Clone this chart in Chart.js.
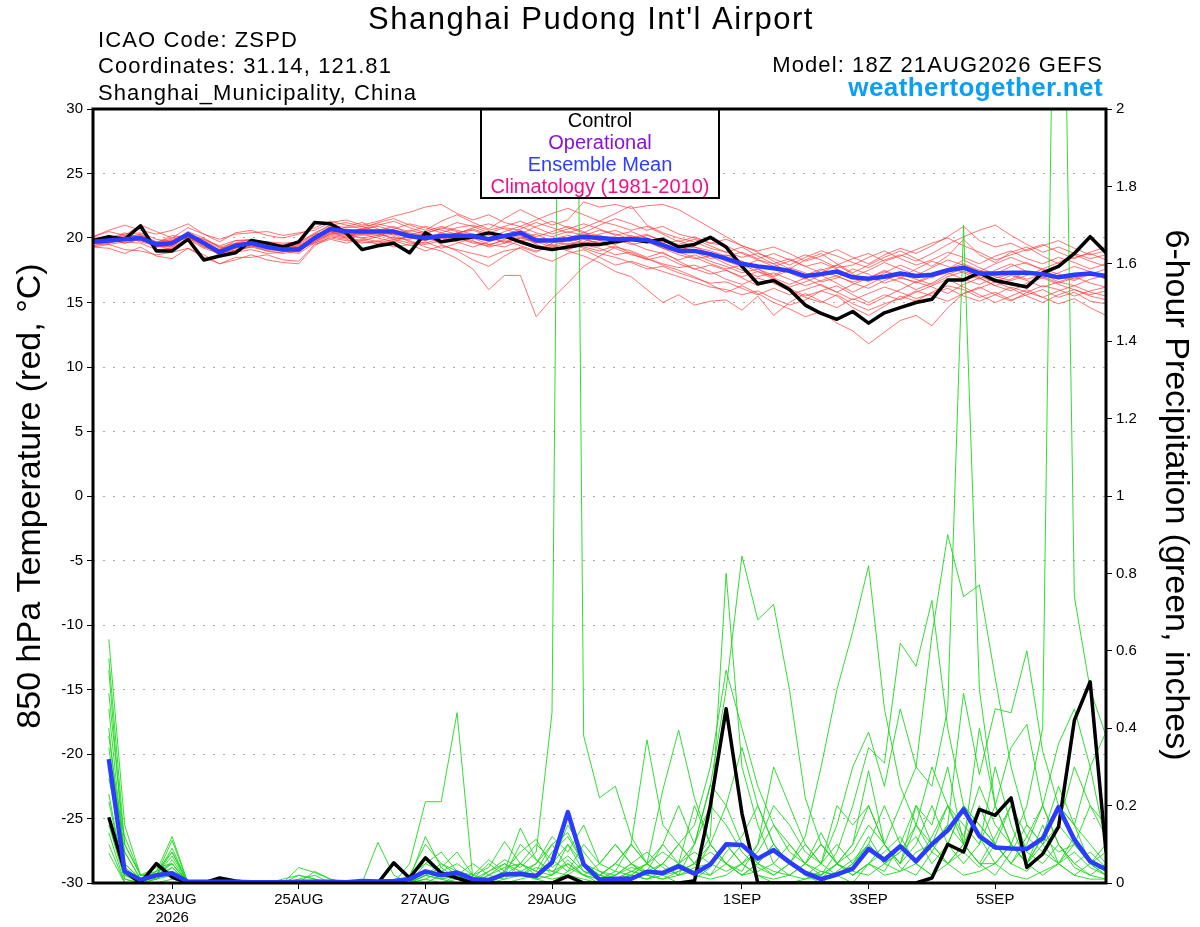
<!DOCTYPE html>
<html>
<head>
<meta charset="utf-8">
<title>Shanghai Pudong Int'l Airport - GEFS plume</title>
<script src="https://cdn.jsdelivr.net/npm/chart.js@4.4.1/dist/chart.umd.min.js"></script>
<style>
  html, body { margin: 0; padding: 0; background: #fff; }
  #wrap { width: 1200px; height: 927px; }
</style>
</head>
<body>
<div id="wrap"><canvas id="plumeChart" width="1200" height="927"></canvas></div>
<script>
// time axis: hours after 00Z 22AUG2026 (temperature starts at the 18Z init, precip at +6h)
const tempHours = Array.from({ length: 65 }, (_, j) => -6 + 6 * j);
const precipHours = Array.from({ length: 64 }, (_, k) => 6 * k);

const dayTickHours = [24, 72, 120, 168, 240, 288, 336];
const dayTickLabels = [['23AUG', '2026'], '25AUG', '27AUG', '29AUG', '1SEP', '3SEP', '5SEP'];
const tempTicks = [-30, -25, -20, -15, -10, -5, 0, 5, 10, 15, 20, 25, 30];
const precipTicks = [0, 0.2, 0.4, 0.6, 0.8, 1, 1.2, 1.4, 1.6, 1.8, 2];

const legendNames = ['Control', 'Operational', 'Ensemble Mean', 'Climatology (1981-2010)'];
const legendColors = ['#000000', '#8a12dd', '#2f3cff', '#ee1188'];

// 850 hPa temperature, degC
const controlTemp = [
  19.8,20.1,19.9,20.95,19.0,19.0,19.9,18.3,18.6,18.85,
  19.8,19.6,19.3,19.7,21.2,21.1,20.4,19.1,19.4,19.6,
  18.85,20.4,19.7,19.9,20.1,20.4,20.15,19.7,19.3,19.1,
  19.3,19.5,19.5,19.7,19.9,19.7,19.9,19.3,19.5,20.05,
  19.3,17.8,16.45,16.7,16.0,14.8,14.15,13.7,14.3,13.4,
  14.2,14.6,15.0,15.25,16.75,16.75,17.3,16.7,16.45,16.2,
  17.3,17.8,18.8,20.1,18.85
];
const meanTemp = [
  19.7,19.8,19.9,20.0,19.5,19.6,20.3,19.6,18.9,19.4,
  19.6,19.3,19.1,19.1,20.0,20.7,20.5,20.5,20.5,20.5,
  20.15,20.0,20.15,20.2,20.15,19.9,20.15,20.4,19.8,19.8,
  19.9,20.1,20.0,19.9,19.9,19.85,19.45,19.0,19.0,18.75,
  18.4,18.0,17.8,17.65,17.45,17.05,17.2,17.4,16.95,16.85,
  17.0,17.25,17.05,17.15,17.5,17.7,17.25,17.25,17.3,17.3,
  17.2,16.95,17.15,17.25,17.05
];
const redMembers = [
  [20.1,20.6,21.0,20.6,20.3,20.6,21.1,20.3,19.7,20.4, 20.6,20.2,20.0,20.3,20.8,21.3,21.0,20.7,21.2,21.5,
   21.0,20.6,21.3,21.8,21.2,20.7,21.5,22.2,21.6,21.0, 21.4,22.8,22.4,22.6,22.3,22.5,22.6,22.2,21.5,20.8,
   20.1,19.4,18.9,18.2,17.6,18.3,18.8,18.0,17.3,17.9, 18.5,19.0,18.4,17.8,18.6,19.9,18.7,18.1,18.9,19.3,
   18.6,18.0,18.5,18.8,18.3],
  [19.3,19.2,18.8,19.3,18.6,18.4,19.2,18.7,18.0,18.3, 18.7,18.3,18.1,18.0,19.4,20.1,19.9,19.6,19.8,19.3,
   19.5,19.0,19.4,19.1,18.8,18.5,19.0,19.2,18.6,18.2, 18.8,19.1,18.5,17.9,18.2,17.8,17.4,17.0,16.6,16.2,
   16.0,15.6,15.9,15.3,14.8,15.2,15.9,15.5,14.6,14.0, 14.7,15.5,15.1,15.8,16.3,16.0,15.4,15.8,15.2,15.6,
   16.0,15.4,15.8,15.1,14.9],
  [19.6,19.9,20.1,19.7,19.4,19.3,20.0,19.7,19.0,19.2, 19.5,19.4,19.0,19.3,19.8,20.4,20.2,20.0,19.7,20.1,
   19.8,19.3,19.0,18.4,17.6,16.0,17.1,17.1,13.9,15.3, 16.5,17.8,18.6,19.3,19.0,18.5,18.9,18.2,17.6,17.9,
   17.5,17.0,17.4,16.8,16.2,16.6,17.1,16.5,15.8,16.4, 17.0,16.6,16.0,16.5,17.2,17.6,16.9,16.3,16.8,17.4,
   17.0,16.5,16.9,17.4,16.8],
  [20.0,19.9,20.3,20.4,19.9,19.7,20.5,20.0,19.3,19.6, 19.9,19.5,19.3,19.5,20.3,21.0,20.8,20.9,21.1,20.8,
   20.5,20.9,20.6,20.3,20.8,21.1,20.7,20.3,20.9,21.3, 20.8,20.4,21.0,21.5,21.1,20.6,20.9,20.3,20.0,19.6,
   19.9,19.4,19.0,19.3,18.8,18.2,18.6,19.1,18.5,18.0, 18.7,19.2,18.8,19.4,20.1,20.9,19.8,19.3,19.6,19.0,
   19.4,19.8,19.2,18.7,19.0],
  [19.4,19.7,19.8,20.1,19.3,19.5,20.1,19.4,18.7,19.3, 19.4,19.1,19.2,18.9,19.9,20.5,20.3,20.2,20.4,19.9,
   20.1,19.8,20.3,20.0,19.6,19.4,19.9,20.2,19.5,19.0, 19.4,19.9,19.6,19.2,18.7,18.4,17.9,17.5,17.0,16.4,
   15.8,16.3,15.7,15.0,14.5,13.9,14.3,13.4,12.8,11.8, 12.7,13.6,14.0,13.2,14.6,15.7,16.2,15.6,15.1,15.8,
   16.3,16.0,15.5,15.9,16.2],
  [19.8,19.6,20.0,20.3,19.7,19.8,20.4,19.5,19.1,19.6, 19.7,19.4,19.0,19.2,20.1,20.9,20.6,20.3,20.6,20.9,
   20.3,20.1,19.8,20.4,20.6,20.2,19.6,20.0,20.3,19.7, 19.5,19.7,20.3,20.6,20.1,19.9,19.4,19.1,19.3,18.8,
   18.2,17.8,18.3,18.0,17.3,16.8,17.5,17.9,17.2,16.6, 17.3,17.9,17.4,16.9,17.6,18.3,17.7,17.2,17.8,18.1,
   17.5,17.0,16.7,17.2,17.6],
  [19.7,20.0,19.6,19.9,19.6,19.9,20.2,19.9,19.3,19.0, 19.3,19.6,19.4,19.0,19.7,20.3,20.9,21.2,20.7,20.2,
   20.6,20.3,20.8,20.5,19.9,20.4,20.8,20.6,20.1,20.5, 20.9,20.5,19.8,19.5,20.0,20.3,19.7,19.4,18.9,18.4,
   18.7,18.2,17.6,17.1,17.7,17.3,16.6,16.9,17.6,17.2, 16.5,16.9,17.6,18.2,17.8,17.3,16.8,17.5,18.0,17.4,
   16.9,17.3,17.8,17.4,16.8],
  [19.6,19.5,19.7,19.6,19.1,19.2,19.9,19.2,18.8,18.9, 19.1,18.8,18.9,19.3,19.6,20.2,20.0,19.8,20.1,20.3,
   19.7,19.6,20.0,19.7,19.3,19.7,20.1,19.6,19.2,19.5, 19.0,18.6,18.1,17.4,17.0,16.0,15.0,15.6,14.8,15.1,
   15.2,14.4,15.5,14.0,15.0,15.7,15.1,14.6,15.3,14.8, 15.4,16.0,16.6,16.2,15.7,16.4,16.9,16.3,15.9,16.5,
   16.9,16.4,16.0,15.6,15.9],
  [20.1,20.5,20.2,21.0,20.5,20.0,20.8,20.3,19.9,20.3, 20.4,20.5,20.2,20.4,20.6,21.2,21.4,21.0,21.3,21.7,
   22.0,22.4,22.6,21.9,21.4,21.8,21.2,20.9,21.4,21.9, 22.3,21.8,21.3,21.9,22.5,21.0,20.4,20.0,19.7,19.2,
   18.9,19.3,18.6,18.0,18.4,17.8,18.1,17.6,17.0,17.5, 18.1,17.6,17.1,17.7,18.3,17.9,17.4,18.0,18.5,18.0,
   17.6,18.1,18.7,18.2,17.8],
  [19.3,19.5,19.1,19.0,18.7,18.9,19.2,18.5,18.0,18.5, 18.5,18.7,18.3,18.2,19.5,19.9,19.6,19.9,19.5,19.8,
   19.4,19.7,19.2,19.6,20.0,19.5,19.3,19.8,19.9,19.4, 19.8,19.3,19.0,19.4,18.8,18.3,18.6,18.0,17.6,17.2,
   17.5,16.9,16.3,16.7,16.1,15.5,15.9,16.3,15.6,15.0, 15.6,15.2,15.8,16.3,16.8,16.2,15.6,15.0,15.5,16.0,
   15.4,14.9,15.3,14.6,14.0],
  [19.7,19.9,20.2,19.8,19.5,19.7,20.0,19.6,19.0,19.5, 19.6,19.3,19.2,19.4,20.2,20.6,20.4,20.7,20.9,20.6,
   20.3,20.5,20.9,20.6,20.3,20.0,20.5,20.9,20.4,20.1, 20.5,20.2,20.6,20.3,19.9,20.2,19.8,19.5,19.9,19.4,
   18.9,18.5,18.8,18.4,17.9,18.5,19.0,18.6,18.1,17.7, 18.3,18.7,18.2,18.8,19.5,20.1,20.6,21.0,20.2,19.5,
   18.9,19.3,18.8,18.4,18.7],
  [19.8,19.7,19.9,20.2,19.6,19.3,20.3,19.8,19.2,19.4, 19.5,19.3,19.3,19.1,19.8,20.4,20.3,20.0,20.2,20.4,
   20.0,19.8,20.1,19.8,20.3,20.0,19.7,20.1,19.6,19.9, 20.2,20.0,19.5,19.8,20.2,19.8,19.2,18.7,18.4,18.6,
   18.0,17.5,17.0,17.3,16.8,16.3,16.7,17.1,16.5,16.1, 16.7,17.2,16.8,16.4,17.0,17.4,17.0,16.6,17.1,16.7,
   16.2,16.6,17.0,16.5,16.2],
  [19.6,20.1,19.8,19.9,19.4,19.8,20.1,19.5,18.8,19.2, 19.6,19.5,19.1,19.3,20.0,20.8,20.2,20.4,20.3,20.0,
   19.9,20.2,19.5,19.0,18.3,17.8,18.6,19.3,18.9,19.6, 20.0,19.6,19.8,20.1,19.6,19.1,18.8,18.3,18.7,18.2,
   17.8,17.3,17.6,16.9,16.4,16.9,16.3,15.8,16.4,16.9, 17.5,17.0,16.5,17.0,17.3,16.8,16.4,16.9,17.2,16.8,
   17.2,16.6,16.3,16.8,17.1],
  [20.1,20.0,20.4,20.0,19.7,20.0,20.3,19.9,19.4,19.8, 19.9,19.6,19.5,19.6,20.4,21.0,21.2,20.9,20.5,20.7,
   21.1,20.8,20.4,20.8,21.0,20.6,20.9,21.3,20.8,20.3, 20.7,21.1,20.7,20.2,20.5,20.0,19.6,19.8,19.3,19.0,
   18.6,18.9,18.4,18.8,18.3,17.8,17.3,17.9,18.4,18.8, 18.2,18.6,19.1,19.6,20.0,19.4,18.9,18.3,18.7,19.1,
   19.5,18.9,18.4,18.9,19.3],
  [19.4,19.6,19.9,20.0,19.4,19.1,19.9,19.6,18.6,19.1, 19.3,19.0,18.8,19.0,19.7,20.3,20.1,20.3,20.0,19.7,
   20.2,20.0,20.4,20.1,19.8,19.3,19.6,20.0,19.7,19.3, 19.1,19.5,19.2,18.7,18.9,18.4,18.0,17.7,17.9,17.4,
   16.8,16.4,16.9,16.5,15.9,15.4,15.0,15.6,14.9,14.4, 14.9,15.3,15.9,15.5,15.1,15.7,16.1,16.6,16.1,15.5,
   15.0,15.6,16.0,15.5,15.2],
  [19.7,19.8,20.0,20.3,19.5,19.6,20.4,19.7,19.0,19.5, 19.7,19.4,19.2,19.4,20.0,20.6,20.7,20.4,20.2,20.6,
   20.4,20.2,20.0,20.4,20.7,20.3,20.0,20.4,20.0,19.8, 20.0,20.4,20.2,19.9,19.5,19.7,19.2,18.9,18.5,18.0,
   17.6,17.9,17.4,17.0,17.5,17.1,17.6,17.0,16.6,16.9, 17.4,16.9,16.6,17.1,17.6,18.0,17.5,17.0,16.7,17.1,
   17.6,17.2,16.8,17.3,17.0],
  [19.9,19.7,20.1,19.8,19.6,20.2,20.0,19.3,19.1,19.8, 19.8,19.7,19.6,19.7,20.3,20.5,20.0,20.6,21.0,21.3,
   20.8,20.4,20.7,21.2,20.9,20.4,20.2,20.7,21.2,20.8, 20.4,20.8,21.3,21.0,20.6,20.9,20.3,19.7,20.1,19.6,
   19.4,18.8,18.3,17.8,18.2,18.7,18.3,17.7,17.9,18.5, 19.0,18.4,17.9,18.3,18.9,18.5,18.0,18.6,19.0,18.4,
   18.0,18.5,18.1,17.6,18.0],
  [19.5,19.9,19.6,19.9,19.3,19.4,20.2,19.3,18.9,19.0, 19.4,19.0,19.0,18.8,19.6,20.0,19.8,19.7,19.6,19.9,
   19.6,19.5,19.8,20.0,19.7,19.5,19.8,19.4,19.0,19.3, 19.6,19.2,18.8,18.5,18.1,17.6,17.8,17.3,16.9,16.5,
   16.6,16.1,15.6,16.1,15.6,16.0,16.4,15.8,15.2,15.7, 16.2,15.8,15.3,15.7,16.1,15.5,15.1,15.6,16.2,15.8,
   15.4,15.9,16.3,15.8,15.5]
];

// 6-hour precipitation, inches
const controlPrecip = [
  0.17,0.03,0,0.05,0.015,0,0,0.013,
  0.005,0,0,0,0,0,0,0,
  0,0,0.052,0.013,0.065,0.026,0.013,0,
  0,0,0,0,0,0.018,0,0,
  0,0,0,0,0,0.005,0.2,0.45,
  0.18,0,0,0,0,0,0,0,
  0,0,0,0,0.013,0.1,0.08,0.19,
  0.175,0.22,0.04,0.075,0.145,0.42,0.52,0.08
];
const meanPrecip = [
  0.32,0.03,0.008,0.02,0.025,0.003,0.003,0.003,
  0.003,0.002,0.002,0.002,0.003,0.003,0.003,0.002,
  0.005,0.004,0.005,0.01,0.03,0.02,0.027,0.01,
  0.008,0.022,0.023,0.018,0.053,0.183,0.048,0.009,
  0.011,0.011,0.029,0.026,0.043,0.024,0.048,0.10,
  0.098,0.063,0.085,0.054,0.026,0.010,0.022,0.037,
  0.088,0.06,0.095,0.056,0.10,0.136,0.19,0.121,
  0.092,0.089,0.088,0.115,0.196,0.112,0.056,0.035
];
const greenMembers = [
  [0.63,0.15,0.02,0.03,0.12,0,0,0, 0,0,0,0,0,0,0,0, 0,0,0,0.02,0.10,0.05,0.02,0, 0.03,0.06,0.04,0.08,0.44,5.0,0.38,0.22,
   0.25,0.12,0.05,0.02,0,0.01,0.04,0.1, 0.05,0.02,0,0,0.01,0.03,0.02,0, 0.05,0.1,0.04,0.02,0.08,0.15,0.1,0.05, 0.12,0.2,0.08,0.05,0.1,0.04,0.02,0.01],
  [0.55,0.05,0.01,0.02,0.08,0,0,0, 0,0,0,0.01,0.02,0.01,0,0, 0,0,0,0,0.03,0.02,0.01,0, 0,0.02,0.05,0.03,0.02,0.06,0.02,0,
   0.02,0.05,0.08,0.04,0.02,0.1,0.2,0.15, 0.08,0.04,0.02,0.05,0.02,0,0.03,0.06, 0.1,0.05,0.08,0.15,0.1,0.2,0.12,0.25, 0.15,0.1,0.2,0.4,3.35,0.74,0.5,0.38],
  [0.49,0.1,0.02,0.04,0.05,0,0,0, 0,0,0,0,0,0,0,0, 0,0,0,0,0.05,0.08,0.03,0.01, 0.05,0.02,0.1,0.06,0.03,0.02,0.05,0.03,
   0.01,0.03,0.02,0.05,0.1,0.05,0.02,0.08, 0.12,0.2,0.1,0.05,0.03,0.02,0.05,0.08, 0.15,0.1,0.2,0.3,0.25,0.45,1.70,0.5, 0.2,0.1,0.05,0.12,0.08,0.1,0.05,0.02],
  [0.40,0.02,0,0.01,0.03,0,0,0, 0,0,0,0,0,0,0,0, 0,0,0,0.05,0.21,0.21,0.44,0.01, 0,0.02,0.03,0.01,0,0.03,0.05,0.02,
   0.05,0.1,0.37,0.15,0.1,0.05,0.12,0.8, 0.3,0.15,0.05,0.02,0.05,0.1,0.05,0.02, 0.05,0.08,0.12,0.05,0.02,0.1,0.2,0.12, 0.05,0.1,0.05,0.02,0.05,0.08,0.04,0.02],
  [0.38,0.08,0.01,0.02,0.11,0,0,0, 0,0,0,0,0.01,0.02,0,0, 0,0.105,0.02,0,0.02,0.05,0.03,0.02, 0.04,0.107,0.05,0.02,0.05,0.15,0.08,0.03,
   0.02,0.05,0.03,0.1,0.2,0.1,0.25,0.5, 0.845,0.68,0.72,0.5,0.22,0.1,0.05,0.03, 0.02,0.05,0.03,0.08,0.1,0.05,0.08,0.04, 0.1,0.05,0.03,0.08,0.05,0.02,0.05,0.1],
  [0.23,0.01,0,0.02,0.04,0,0,0, 0,0,0,0,0,0,0,0, 0,0,0,0,0.01,0.03,0.05,0.02, 0.01,0.03,0.142,0.06,0.02,0.1,0.05,0.02,
   0.01,0.02,0.05,0.02,0.03,0.05,0.08,0.05, 0.02,0.05,0.1,0.05,0.12,0.3,0.5,0.65, 0.82,0.45,0.25,0.15,0.08,0.05,0.1,0.05, 0.02,0.08,0.15,0.1,0.05,0.12,0.06,0.03],
  [0.21,0.02,0.01,0.03,0.08,0,0,0, 0,0,0,0,0,0.03,0.01,0, 0,0,0,0.01,0.12,0.04,0.08,0.02, 0.06,0.03,0.08,0.113,0.04,0.07,0.03,0.01,
   0.03,0.1,0.05,0.24,0.395,0.22,0.1,0.05, 0.02,0.03,0.05,0.1,0.05,0.02,0.08,0.2, 0.35,0.31,0.62,0.56,0.73,0.4,0.2,0.15, 0.1,0.2,0.12,0.08,0.15,0.1,0.05,0.08],
  [0.13,0,0,0.01,0.02,0,0,0, 0,0,0,0,0,0,0,0, 0,0,0,0,0,0.02,0.01,0, 0.02,0.05,0.03,0.02,0.08,0.12,0.05,0.02,
   0.05,0.03,0.02,0.01,0.02,0.04,0.05,0.1, 0.05,0.1,0.2,0.15,0.08,0.05,0.15,0.3, 0.39,0.25,0.45,0.3,0.64,0.9,0.74,0.77, 0.53,0.3,0.15,0.1,0.2,0.15,0.1,0.05],
  [0.077,0,0,0.02,0.03,0,0,0, 0,0,0,0,0.04,0.027,0.01,0, 0,0,0,0,0.02,0.01,0.02,0.05, 0.02,0.04,0.05,0.1,0.06,0.03,0.1,0.05,
   0.03,0.02,0.05,0.08,0.05,0.1,0.255,0.2, 0.1,0.05,0.03,0.02,0.05,0.13,0.05,0.1, 0.29,0.1,0.05,0.2,0.1,0.15,0.49,0.28, 0.45,0.44,0.6,0.34,0.2,0.15,0.3,0.1],
  [0.30,0.12,0.02,0.01,0.06,0,0,0, 0,0,0,0,0,0,0,0, 0,0,0,0,0.03,0.01,0.02,0, 0.01,0.02,0.03,0.05,0.1,0.04,0.02,0.01,
   0.02,0.04,0.03,0.05,0.02,0.03,0.1,0.2, 0.35,0.2,0.1,0.05,0.02,0.05,0.1,0.05, 0.1,0.2,0.1,0.05,0.12,0.2,0.15,0.1, 0.2,0.35,0.41,0.2,0.36,0.45,0.3,0.39],
  [0.35,0.04,0.01,0.02,0.09,0,0,0, 0,0,0,0,0,0,0,0, 0,0,0,0.02,0.05,0.03,0.02,0.01, 0.01,0.03,0.02,0.04,0.03,0.05,0.02,0.01,
   0.01,0.02,0.01,0.03,0.05,0.08,0.05,0.03, 0.05,0.08,0.15,0.1,0.05,0.03,0.02,0.05, 0.1,0.05,0.08,0.12,0.05,0.1,0.2,0.15, 0.1,0.05,0.12,0.2,0.1,0.05,0.08,0.04],
  [0.15,0.01,0,0.03,0.05,0,0,0, 0,0,0,0,0.02,0.01,0,0, 0,0,0,0,0.02,0.01,0,0.01, 0.03,0.05,0.02,0.05,0.12,0.08,0.15,0.05,
   0.1,0.05,0.02,0.05,0.1,0.15,0.3,0.55, 0.4,0.25,0.15,0.08,0.05,0.1,0.05,0.02, 0.05,0.03,0.1,0.2,0.15,0.3,0.1,0.05, 0.05,0.1,0.05,0.12,0.25,0.15,0.05,0.02],
  [0.58,0.1,0.02,0.02,0.07,0,0,0, 0,0,0,0,0,0,0,0, 0,0,0,0,0,0,0.01,0, 0.01,0.02,0.03,0.02,0.05,0.1,0.03,0.02,
   0.05,0.1,0.05,0.02,0.05,0.03,0.02,0.05, 0.1,0.05,0.02,0.05,0.1,0.05,0.2,0.15, 0.2,0.1,0.05,0.1,0.2,0.1,0.05,0.1, 0.3,0.15,0.05,0.1,0.15,0.3,0.2,0.12],
  [0.45,0.05,0.01,0.01,0.04,0,0,0, 0,0,0,0,0,0,0,0, 0,0,0,0,0.01,0,0.02,0.01, 0,0.01,0.02,0.01,0.02,0.05,0.02,0.05,
   0.1,0.05,0.02,0.01,0.03,0.05,0.1,0.05, 0.03,0.1,0.3,0.2,0.1,0.05,0.02,0.05, 0.12,0.05,0.1,0.05,0.02,0.05,0.1,0.2, 0.1,0.05,0.1,0.2,0.1,0.05,0.02,0.05],
  [0.10,0,0,0,0.01,0,0,0, 0,0,0,0,0,0,0,0, 0,0,0,0,0,0,0,0, 0,0,0.01,0.02,0.01,0.02,0.01,0,
   0.01,0.02,0.01,0.02,0.05,0.02,0.01,0.02, 0.05,0.02,0.01,0.02,0.01,0.02,0.05,0.02, 0.05,0.02,0.03,0.05,0.1,0.05,0.02,0.03, 0.05,0.02,0.01,0.03,0.05,0.02,0.01,0.01],
  [0.27,0.08,0.01,0.02,0.05,0,0,0, 0,0,0,0,0,0,0,0, 0,0,0,0,0.02,0.04,0.01,0, 0.02,0.01,0.05,0.03,0.1,0.13,0.05,0.02,
   0.01,0.03,0.05,0.1,0.05,0.2,0.1,0.05, 0.02,0.05,0.1,0.05,0.02,0.01,0.05,0.1, 0.2,0.1,0.05,0.15,0.3,0.2,0.1,0.4, 0.2,0.1,0.05,0.15,0.05,0.1,0.2,0.15]
];

const FONT = '"Liberation Sans", Arial, Helvetica, sans-serif';

function pts(hours, vals) {
    return vals.map((v, i) => ({ x: hours[i], y: v }));
}

function lineSet(data, axis, color, width, order) {
    return {
        data: data,
        yAxisID: axis,
        borderColor: color,
        borderWidth: width,
        pointRadius: 0,
        pointHitRadius: 0,
        tension: 0,
        fill: false,
        borderJoinStyle: 'round',
        order: order
    };
}

const datasets = [];
// lower order is drawn on top
datasets.push(lineSet(pts(tempHours, meanTemp), 'y', '#2a3cff', 4.5, 0));
datasets.push(lineSet(pts(precipHours, meanPrecip), 'y2', '#2a3cff', 4.5, 0));
datasets.push(lineSet(pts(tempHours, controlTemp), 'y', '#000000', 3.5, 1));
datasets.push(lineSet(pts(precipHours, controlPrecip), 'y2', '#000000', 3.5, 1));
greenMembers.forEach(m => datasets.push(lineSet(pts(precipHours, m), 'y2', 'rgba(30, 215, 30, 0.9)', 1, 2)));
redMembers.forEach(m => datasets.push(lineSet(pts(tempHours, m), 'y', 'rgba(255, 55, 55, 0.7)', 1, 3)));

const decorPlugin = {
    id: 'decor',
    afterDatasetsDraw(chart) {
        const ctx = chart.ctx;
        const a = chart.chartArea;
        ctx.save();
        // legend box sits over the lines
        ctx.fillStyle = '#fff';
        ctx.fillRect(481, a.top, 238, 90);
        ctx.lineWidth = 2;
        ctx.strokeStyle = '#000';
        ctx.strokeRect(481, a.top, 238, 89);
        ctx.font = '20px ' + FONT;
        ctx.textAlign = 'center';
        ctx.textBaseline = 'alphabetic';
        legendNames.forEach((name, i) => {
            ctx.fillStyle = legendColors[i];
            ctx.fillText(name, 600, 127 + 22 * i);
        });
        // frame
        ctx.lineWidth = 3;
        ctx.strokeStyle = '#000';
        ctx.strokeRect(a.left, a.top, a.right - a.left, a.bottom - a.top);
        ctx.restore();
    },
    afterDraw(chart) {
        const ctx = chart.ctx;
        ctx.save();
        ctx.fillStyle = '#000';
        ctx.textBaseline = 'alphabetic';

        ctx.textAlign = 'center';
        ctx.font = '31px ' + FONT;
        ctx.letterSpacing = '1.5px';
        ctx.fillText("Shanghai Pudong Int'l Airport", 591, 29);

        ctx.textAlign = 'left';
        ctx.font = '22px ' + FONT;
        ctx.letterSpacing = '1.1px';
        ctx.fillText('ICAO Code: ZSPD', 98, 47);
        ctx.fillText('Coordinates: 31.14, 121.81', 98, 73);
        ctx.fillText('Shanghai_Municipality, China', 98, 100);

        ctx.textAlign = 'right';
        ctx.fillText('Model: 18Z 21AUG2026 GEFS', 1103, 72);
        ctx.font = 'bold 26px ' + FONT;
        ctx.letterSpacing = '0.4px';
        ctx.fillStyle = '#0a9ff5';
        ctx.fillText('weathertogether.net', 1103, 96);

        // axis titles
        ctx.letterSpacing = '0px';
        ctx.fillStyle = '#000';
        ctx.font = '34px ' + FONT;
        ctx.textAlign = 'center';
        ctx.textBaseline = 'middle';
        ctx.save();
        ctx.translate(31, 496);
        ctx.rotate(-Math.PI / 2);
        ctx.fillText('850 hPa Temperature (red, \u00B0C)', 0, 0);
        ctx.restore();
        ctx.save();
        ctx.translate(1175, 495);
        ctx.rotate(Math.PI / 2);
        ctx.fillText('6-hour Precipitation (green, inches)', 0, 0);
        ctx.restore();
        ctx.restore();
    }
};

const tickFont = { family: FONT, size: 15 };

new Chart(document.getElementById('plumeChart'), {
    type: 'line',
    data: { datasets: datasets },
    options: {
        responsive: false,
        animation: false,
        devicePixelRatio: 1,
        events: [],
        layout: { padding: { top: 109, left: 0, right: 0, bottom: 0 } },
        plugins: { legend: { display: false }, tooltip: { enabled: false }, title: { display: false } },
        scales: {
            x: {
                type: 'linear',
                min: -6,
                max: 378,
                afterBuildTicks: axis => { axis.ticks = dayTickHours.map(v => ({ value: v })); },
                afterFit: scale => { scale.height = 44; },
                ticks: {
                    autoSkip: false,
                    maxRotation: 0,
                    padding: 2,
                    color: '#000',
                    font: tickFont,
                    callback: v => dayTickLabels[dayTickHours.indexOf(v)]
                },
                grid: { drawOnChartArea: false, drawTicks: true, tickLength: 6, tickColor: '#000', tickWidth: 1 },
                border: { display: false }
            },
            y: {
                position: 'left',
                min: -30,
                max: 30,
                afterBuildTicks: axis => { axis.ticks = tempTicks.map(v => ({ value: v })); },
                afterFit: scale => { scale.width = 93; },
                ticks: { padding: 4, color: '#000', font: tickFont, callback: v => String(v) },
                grid: { color: '#a8a8a8', lineWidth: 1, tickColor: '#000', tickLength: 6, tickWidth: 1 },
                border: { display: false, dash: [2, 8] }
            },
            y2: {
                position: 'right',
                min: 0,
                max: 2,
                afterBuildTicks: axis => { axis.ticks = precipTicks.map(v => ({ value: v })); },
                afterFit: scale => { scale.width = 94; },
                ticks: { padding: 4, color: '#000', font: tickFont, callback: v => String(Math.round(v * 10) / 10) },
                grid: { drawOnChartArea: false, tickColor: '#000', tickLength: 6, tickWidth: 1 },
                border: { display: false }
            }
        }
    },
    plugins: [decorPlugin]
});
</script>
</body>
</html>
